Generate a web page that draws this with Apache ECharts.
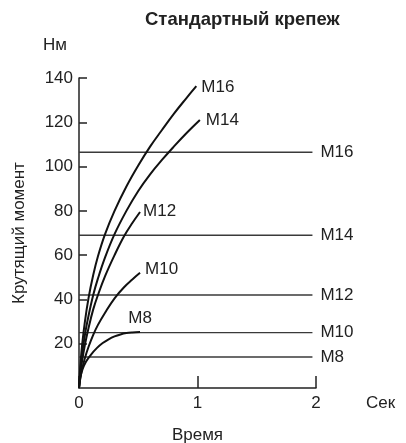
<!DOCTYPE html>
<html>
<head>
<meta charset="utf-8">
<script src="https://cdn.jsdelivr.net/npm/echarts@6/dist/echarts.min.js"></script>
<style>
html,body{margin:0;padding:0;background:#fff;}
#c{width:406px;height:443px;}
</style>
</head>
<body>
<div id="c"></div>
<script>
// ---- data ----
const titleText = 'Стандартный крепеж';
const xTicks = [0, 1, 2];
const yTicks = [20, 40, 60, 80, 100, 120, 140];

const curveNames = ['M8', 'M10', 'M12', 'M14', 'M16'];
const curveM8  = [[0,0],[0.01,4.5],[0.03,8.5],[0.06,12],[0.1,15],[0.15,18],[0.2,20.3],[0.25,22],[0.3,23.3],[0.35,24.2],[0.4,24.8],[0.45,25.1],[0.515,25.3]];
const curveM10 = [[0,0],[0.02,7],[0.05,13.5],[0.08,18.5],[0.12,24],[0.16,28.5],[0.22,34],[0.3,40.5],[0.38,45.5],[0.45,49],[0.515,52]];
const curveM12 = [[0,0],[0.02,10],[0.05,19.5],[0.08,27],[0.12,35.5],[0.16,42],[0.22,50.5],[0.3,60],[0.38,68.5],[0.45,74.5],[0.515,79.5]];
const curveM14 = [[0,0],[0.02,12.5],[0.05,24],[0.08,32.5],[0.12,42],[0.16,49.5],[0.22,59],[0.3,69.5],[0.4,80],[0.5,89],[0.6,96.5],[0.7,103],[0.8,109],[0.9,114.7],[1.02,121]];
const curveM16 = [[0,0],[0.02,16],[0.05,30],[0.08,40.5],[0.12,51],[0.16,59.5],[0.22,69.5],[0.3,80],[0.4,91],[0.5,100.5],[0.6,109],[0.7,116.5],[0.8,123.8],[0.9,130.5],[0.99,136.3]];
const curves = [curveM8, curveM10, curveM12, curveM14, curveM16];

const limitNames = ['M8', 'M10', 'M12', 'M14', 'M16'];
const limitValues = [14, 25, 42, 69, 106.5];
const limitStart = 0;
const limitEnd = 1.97;

// ---- chart ----
const font = 'Liberation Sans, Arial, Helvetica, sans-serif';
const txt = '#222';
const fs = 17;

const curveLabelStyle = [
  {distance: 0, align: 'center', verticalAlign: 'bottom', offset: [0, -5]},
  {distance: 5, offset: [0, -4]},
  {distance: 3, offset: [0, -1]},
  {distance: 6, offset: [0, 0]},
  {distance: 5, offset: [0, 1]}
];

const series = [];
limitNames.forEach((n, i) => {
  series.push({
    type: 'line',
    name: 'limit ' + n,
    data: [[limitStart, limitValues[i]], [limitEnd, limitValues[i]]],
    showSymbol: false,
    lineStyle: {color: '#3a3a3a', width: 1.4},
    endLabel: {show: true, formatter: n, distance: 8, color: txt, fontSize: fs, fontFamily: font},
    z: 2
  });
});
curveNames.forEach((n, i) => {
  series.push({
    type: 'line',
    name: n,
    data: curves[i],
    smooth: 0.4,
    showSymbol: false,
    lineStyle: {color: '#111', width: 2},
    endLabel: Object.assign({show: true, formatter: n, color: txt, fontSize: fs, fontFamily: font}, curveLabelStyle[i]),
    z: 3
  });
});

const chart = echarts.init(document.getElementById('c'), null, {renderer: 'canvas'});
chart.setOption({
  animation: false,
  backgroundColor: '#fff',
  textStyle: {fontFamily: font},
  title: {
    text: titleText,
    left: 145, top: 10, padding: 0,
    textStyle: {fontSize: 18.5, fontWeight: 'bold', color: txt, fontFamily: font}
  },
  grid: {left: 79, right: 90, top: 78, bottom: 55, containLabel: false, outerBoundsMode: 'none'},
  xAxis: [{
    type: 'value', min: xTicks[0], max: xTicks[xTicks.length - 1], interval: 1,
    name: 'Время', nameLocation: 'middle', nameGap: 39,
    nameTextStyle: {fontSize: fs, color: txt, verticalAlign: 'top'},
    axisLine: {show: true, lineStyle: {color: '#222', width: 1.5}},
    axisTick: {show: true, inside: true, length: 12, lineStyle: {color: '#222', width: 1.5}},
    axisLabel: {fontSize: fs, color: txt, margin: 7},
    splitLine: {show: false}
  }, {
    type: 'value', min: xTicks[0], max: xTicks[xTicks.length - 1], position: 'bottom',
    name: 'Сек', nameLocation: 'end', nameGap: 50,
    nameTextStyle: {fontSize: fs, color: txt, verticalAlign: 'top', padding: [7, 0, 0, 0]},
    axisLine: {show: false}, axisTick: {show: false}, axisLabel: {show: false}, splitLine: {show: false}
  }],
  yAxis: [{
    type: 'value', min: 0, max: yTicks[yTicks.length - 1], interval: 20,
    name: 'Крутящий момент', nameLocation: 'middle', nameGap: 51,
    nameTextStyle: {fontSize: fs, color: txt},
    axisLine: {show: true, lineStyle: {color: '#222', width: 1.5}},
    axisTick: {show: true, inside: true, length: 8, lineStyle: {color: '#222', width: 1.5}},
    axisLabel: {fontSize: fs, color: txt, margin: 6, showMinLabel: false},
    splitLine: {show: false}
  }, {
    type: 'value', min: 0, max: yTicks[yTicks.length - 1], position: 'left',
    name: 'Нм', nameLocation: 'end', nameGap: 24,
    nameTextStyle: {fontSize: fs, color: txt, align: 'right', padding: [0, 12, 0, 0]},
    axisLine: {show: false}, axisTick: {show: false}, axisLabel: {show: false}, splitLine: {show: false}
  }],
  series: series
});
</script>
</body>
</html>
